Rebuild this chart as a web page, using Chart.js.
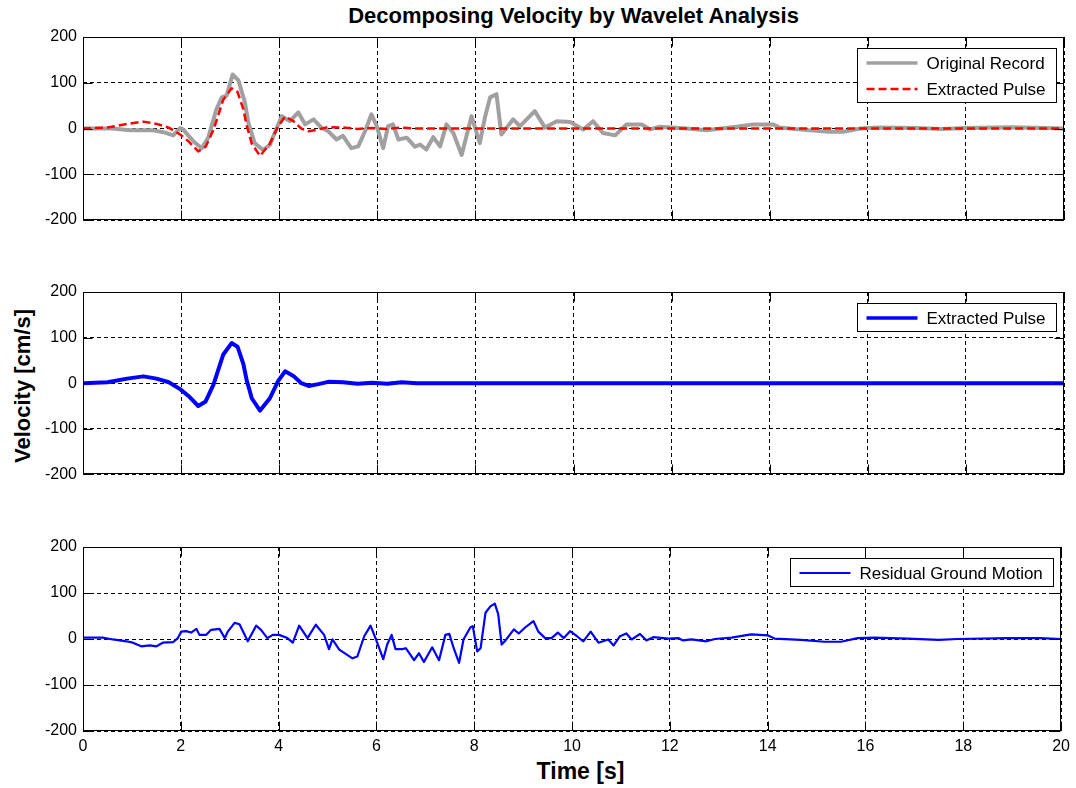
<!DOCTYPE html>
<html>
<head>
<meta charset="utf-8">
<script src="https://cdn.jsdelivr.net/npm/chart.js@4.4.0/dist/chart.umd.min.js"></script>
<style>
  body { margin: 0; background: #fff; width: 1076px; height: 788px; position: relative; overflow: hidden;
         font-family: "Liberation Sans", Arial, sans-serif; color: #000; }
  .panel { position: absolute; left: 0; }
  #title { position: absolute; top: 3px; left: 83px; width: 981px; text-align: center; font-weight: bold; font-size: 22px; }
  #xlabel { position: absolute; top: 758px; left: 90px; width: 981px; text-align: center; font-weight: bold; font-size: 23px; }
  #ylabel { position: absolute; left: 23px; top: 386px; transform: translate(-50%, -50%) rotate(-90deg);
            font-weight: bold; font-size: 22px; white-space: nowrap; }
</style>
</head>
<body>
<div id="title">Decomposing Velocity by Wavelet Analysis</div>
<div id="ylabel">Velocity [cm/s]</div>
<div id="xlabel">Time [s]</div>
<canvas id="top-chart" class="panel" width="1076" height="240" style="top:0"></canvas>
<canvas id="mid-chart" class="panel" width="1076" height="250" style="top:240px"></canvas>
<canvas id="bot-chart" class="panel" width="1076" height="298" style="top:490px"></canvas>
<script>
// time axis / velocity axis ticks
const xTicks = [0, 2, 4, 6, 8, 10, 12, 14, 16, 18, 20];
const yTicks = [-200, -100, 0, 100, 200];

// original record (grey)
const originalT = [0, 0.6, 0.96, 1.43, 1.64, 1.84, 1.98, 2.04, 2.25, 2.42, 2.55, 2.72, 2.83, 2.93, 3.05, 3.17,
    3.3, 3.37, 3.5, 3.67, 3.81, 3.95, 4.05, 4.22, 4.39, 4.53, 4.7, 4.87, 5.0, 5.17, 5.3, 5.47, 5.61, 5.75,
    5.88, 5.99, 6.12, 6.22, 6.32, 6.43, 6.6, 6.77, 6.87, 7.0, 7.14, 7.28, 7.41, 7.55, 7.72, 7.92, 8.09,
    8.2, 8.3, 8.43, 8.53, 8.77, 8.91, 9.21, 9.42, 9.66, 9.93, 10.2, 10.4, 10.6, 10.85, 11.08, 11.39,
    11.56, 11.76, 12.3, 12.71, 13.32, 13.66, 14.07, 14.2, 14.7, 15.2, 15.5, 15.85, 16.2, 17.0, 17.5,
    18.0, 18.9, 19.6, 20];
const originalV = [0, 0, -4, -4, -8, -15, 1, -2, -28, -43, -21, 42, 68, 72, 118, 105,
    57, 13, -32, -47, -36, 1, 27, 16, 35, 9, 20, 1, -6, -24, -16, -43, -39, -6,
    31, 5, -43, 5, 9, -24, -20, -40, -35, -46, -19, -39, 9, -10, -58, 27, -32,
    27, 68, 75, -13, 20, 5, 38, 2, 16, 14, -2, 16, -10, -15, 9, 9,
    -2, 4, 0, -4, 4, 9, 9, 2, -3, -7, -7, 0, 2, 1, -1,
    1, 3, 1, 0];

// extracted pulse (red dashed on top, thick blue in the middle)
const pulseT = [0, 0.5, 0.9, 1.23, 1.5, 1.75, 1.98, 2.15, 2.35, 2.5, 2.66, 2.86, 3.03, 3.15, 3.27, 3.34,
    3.4, 3.44, 3.61, 3.81, 3.98, 4.12, 4.29, 4.45, 4.6, 4.8, 5.0, 5.3, 5.6, 5.9, 6.2, 6.5, 6.8, 7.0, 20];
const pulseV = [0, 2, 10, 15, 10, 2, -13, -28, -50, -40, -3, 63, 88, 80, 42, 5,
    -17, -33, -60, -33, 5, 26, 16, 0, -6, -2, 3, 2, -1, 1, -1, 2, 0, 0, 0];

// residual ground motion (bottom)
const residualT = [0, 0.4, 0.61, 0.89, 1.02, 1.19, 1.36, 1.5, 1.63, 1.84, 1.94, 2.01, 2.11, 2.21, 2.32, 2.38,
    2.52, 2.62, 2.79, 2.9, 2.96, 3.1, 3.2, 3.37, 3.54, 3.64, 3.77, 3.88, 4.01, 4.18, 4.29, 4.42, 4.59,
    4.76, 4.93, 5.03, 5.1, 5.24, 5.51, 5.61, 5.75, 5.88, 5.99, 6.14, 6.22, 6.31, 6.39, 6.53, 6.6, 6.77,
    6.87, 6.97, 7.14, 7.28, 7.41, 7.49, 7.58, 7.69, 7.78, 7.92, 7.97, 8.06, 8.13, 8.23, 8.33, 8.42, 8.49,
    8.56, 8.64, 8.81, 8.91, 9.04, 9.21, 9.31, 9.45, 9.58, 9.71, 9.83, 9.96, 10.1, 10.23, 10.38, 10.54,
    10.74, 10.85, 10.98, 11.11, 11.22, 11.39, 11.52, 11.66, 11.97, 12.17, 12.27, 12.44, 12.75, 12.92,
    13.26, 13.66, 14.0, 14.14, 14.68, 15.16, 15.5, 15.84, 16.18, 16.86, 17.5, 17.88, 18.9, 19.58, 20];
const residualV = [3, 3, -1, -5, -8, -16, -14, -16, -8, -7, 2, 16, 17, 14, 22, 9,
    9, 20, 22, 2, 16, 35, 32, -5, 29, 20, 2, 9, 9, 2, -8, 29, 2,
    31, 9, -22, -1, -23, -42, -38, 6, 29, -1, -44, -12, 9, -22, -22, -20, -46,
    -31, -50, -18, -46, 9, 11, -20, -52, -1, 25, 28, -27, -20, 57, 71, 77, 54,
    -12, -3, 21, 12, 25, 39, 16, 2, 2, 14, 2, 17, 6, -5, 16, -8,
    -1, -14, 6, 12, -1, 11, -3, 4, 1, 2, -3, -1, -5, 0,
    3, 10, 8, 1, -2, -6, -6, 2, 3, 1, -2, 0, 2, 2, 0];

const xy = (ts, vs) => ts.map((t, i) => ({ x: t, y: vs[i] }));

Chart.defaults.font.family = '"Liberation Sans", Arial, sans-serif';
Chart.defaults.font.size = 16;
Chart.defaults.color = "#000";

// matlab-like axes box, inward ticks and boxed legend
const matlabAxes = {
    id: "matlabAxes",
    afterDatasetsDraw(chart) {
        const { ctx, chartArea: a, scales } = chart;
        const L = Math.round(a.left) + 0.5, R = Math.round(a.right) - 0.5;
        const T = Math.round(a.top) + 0.5, B = Math.round(a.bottom) - 0.5;
        ctx.save();
        ctx.setLineDash([]);
        ctx.strokeStyle = "#000";
        ctx.lineWidth = 1;
        ctx.beginPath();
        xTicks.forEach((v) => {
            const p = Math.round(scales.x.getPixelForValue(v)) + 0.5;
            ctx.moveTo(p, T); ctx.lineTo(p, T + 9);
            ctx.moveTo(p, B); ctx.lineTo(p, B - 9);
        });
        yTicks.forEach((v) => {
            const p = Math.round(scales.y.getPixelForValue(v)) + 0.5;
            ctx.moveTo(L, p); ctx.lineTo(L + 9, p);
            ctx.moveTo(R, p); ctx.lineTo(R - 9, p);
        });
        ctx.stroke();
        ctx.strokeRect(L, T, R - L, B - T);

        // legend
        const sets = chart.data.datasets;
        ctx.font = '17px "Liberation Sans", Arial, sans-serif';
        const textW = Math.max(...sets.map((d) => ctx.measureText(d.label).width));
        const w = Math.round(9 + 51 + 9 + textW + 11);
        const h = sets.length * 26 + 2;
        const bx = Math.round(a.right - 8 - w) + 0.5, by = Math.round(a.top + 11) + 0.5;
        ctx.fillStyle = "#fff";
        ctx.fillRect(bx, by, w, h);
        ctx.strokeRect(bx, by, w, h);
        sets.forEach((d, i) => {
            const cy = Math.round(by + 14 + i * 26);
            ctx.strokeStyle = d.borderColor;
            ctx.lineWidth = Math.min(d.borderWidth, 3.5);
            ctx.setLineDash(d.borderDash || []);
            ctx.beginPath();
            ctx.moveTo(bx + 9, cy); ctx.lineTo(bx + 60, cy);
            ctx.stroke();
            ctx.fillStyle = "#000";
            ctx.textBaseline = "middle";
            ctx.fillText(d.label, bx + 69, cy + 1);
        });
        ctx.restore();
    },
};

function makePanel(id, datasets, padTop, padBottom, showX) {
    new Chart(document.getElementById(id), {
        type: "line",
        data: { datasets: datasets },
        options: {
            responsive: false,
            animation: false,
            events: [],
            layout: { padding: { top: padTop, bottom: padBottom, left: 0, right: 12 } },
            plugins: { legend: { display: false }, tooltip: { enabled: false } },
            elements: { point: { radius: 0 }, line: { tension: 0, borderJoinStyle: "round", borderCapStyle: "round" } },
            scales: {
                x: {
                    type: "linear", min: 0, max: 20,
                    afterBuildTicks: (s) => { s.ticks = xTicks.map((v) => ({ value: v })); },
                    afterFit: (s) => { s.height = showX ? 57 : 0; },
                    ticks: { display: showX, padding: 6, maxRotation: 0, font: { size: 16 } },
                    grid: { color: "#000", lineWidth: 1, drawTicks: false },
                    border: { display: false, dash: [4, 3] },
                },
                y: {
                    min: -200, max: 200,
                    afterBuildTicks: (s) => { s.ticks = yTicks.map((v) => ({ value: v })); },
                    afterFit: (s) => { s.width = 83; },
                    ticks: { padding: 6, font: { size: 16 } },
                    grid: { color: "#000", lineWidth: 1, drawTicks: false },
                    border: { display: false, dash: [4, 3] },
                },
            },
        },
        plugins: [matlabAxes],
    });
}

makePanel("top-chart", [
    { label: "Original Record", data: xy(originalT, originalV), borderColor: "#a0a0a0", borderWidth: 4, order: 1 },
    { label: "Extracted Pulse", data: xy(pulseT, pulseV), borderColor: "#ff0000", borderWidth: 2.5, borderDash: [8, 4], borderCapStyle: "butt", order: 0 },
], 37, 20, false);

makePanel("mid-chart", [
    { label: "Extracted Pulse", data: xy(pulseT, pulseV), borderColor: "#0000ff", borderWidth: 4 },
], 52, 14, false);

makePanel("bot-chart", [
    { label: "Residual Ground Motion", data: xy(residualT, residualV), borderColor: "#0000ff", borderWidth: 2.2 },
], 57, 0, true);
</script>
</body>
</html>
